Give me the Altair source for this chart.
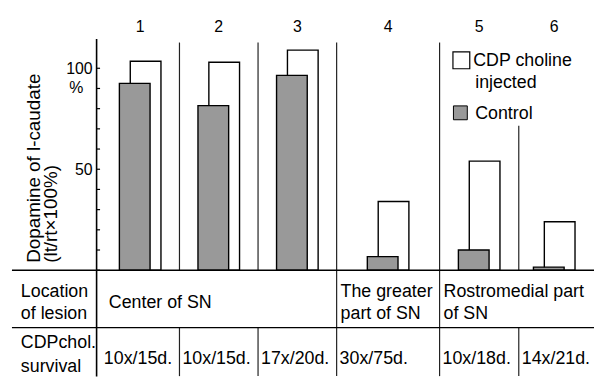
import altair as alt
import pandas as pd

# ---------------- data ----------------
groups = [1, 2, 3, 4, 5, 6]
group_labels = ["1", "2", "3", "4", "5", "6"]
cdp_values = [103.5, 103.0, 109.0, 34.0, 54.0, 24.0]
control_values = [92.5, 81.5, 96.5, 6.7, 10.0, 1.5]
series_names = ["CDP choline injected", "Control"]
locations = ["Center of SN", "Center of SN", "Center of SN",
             "The greater|part of SN",
             "Rostromedial part|of SN", "Rostromedial part|of SN"]
survival = ["10x/15d.", "10x/15d.", "17x/20d.", "30x/75d.", "10x/18d.", "14x/21d."]
y_tick_values = [0, 10, 20, 30, 40, 50, 60, 70, 80, 90, 100]
y_label_values = [50, 100]
y_title = ["Dopamine of l-caudate", "(lt/rt\u00d7100%)"]
row_labels = ["Location|of lesion", "CDPchol.|survival"]

# ---------------- layout ----------------
W, H = 503, 341
BASE = 234          # pixel row of the zero line inside the view
FONT = "Liberation Sans"
xs = alt.Scale(domain=[0.5, 3.5, 4.5, 5.5, 6.5], range=[0, 243, 347, 427, 503],
               zero=False, nice=False)
ys = alt.Scale(domain=[-(H - BASE) / 2.04, 100 + 30 / 2.04], zero=False, nice=False)
fill_scale = alt.Scale(domain=series_names, range=["white", "#999999"])

bars = pd.DataFrame({
    "group": groups * 2,
    "series": [series_names[0]] * len(groups) + [series_names[1]] * len(groups),
    "value": cdp_values + control_values,
})
info = pd.DataFrame({"group": groups, "label": group_labels,
                     "location": locations, "survival": survival})
info["left"] = info["group"] - 0.5
bounds = pd.DataFrame({"b": [g + 0.5 for g in groups[:-1]]})
loc_change = [groups[i] + 0.5 for i in range(len(groups) - 1)
              if locations[i] != locations[i + 1]]
loc_bounds = pd.DataFrame({"b": loc_change})
spans = info[info["location"] != info["location"].shift()].copy()
spans["multi"] = spans["location"].str.contains("|", regex=False)
ticks_df = pd.DataFrame({"t": y_tick_values})
one = pd.DataFrame({"k": [0]})

y_axis = alt.Axis(values=y_label_values, ticks=False, labelOverlap=False, title=y_title)

cdp_bar = alt.Chart(bars).transform_filter(
    alt.datum.series == series_names[0]
).mark_bar(width=31, xOffset=5.5, stroke="black", strokeWidth=1.4, orient="vertical").encode(
    x=alt.X("group:Q", scale=xs, axis=None),
    y=alt.Y("value:Q", scale=ys, axis=y_axis),
    y2=alt.Y2(datum=0),
    fill=alt.Fill("series:N", scale=fill_scale, legend=None),
)
ctrl_bar = alt.Chart(bars).transform_filter(
    alt.datum.series == series_names[1]
).mark_bar(width=31, xOffset=-5.5, stroke="black", strokeWidth=1.4, orient="vertical").encode(
    x=alt.X("group:Q", scale=xs, axis=None),
    y=alt.Y("value:Q", scale=ys, axis=y_axis),
    y2=alt.Y2(datum=0),
    fill=alt.Fill("series:N", scale=fill_scale, legend=None),
)

# y ticks (pointing inward, as in the original)
tick_marks = alt.Chart(ticks_df).mark_rule(color="black", strokeWidth=1.2).encode(
    x=alt.value(0), x2=alt.value(4), y=alt.Y("t:Q", scale=ys))

# horizontal table lines
base_line = alt.Chart(one).mark_rule(color="black", strokeWidth=1.6).encode(
    x=alt.value(-85), x2=alt.value(W), y=alt.value(BASE))
row_line = alt.Chart(one).mark_rule(color="black", strokeWidth=1.3).encode(
    x=alt.value(-85), x2=alt.value(W), y=alt.value(292))

# vertical separators
plot_seps = alt.Chart(bounds).transform_filter(alt.datum.b < 5).mark_rule(
    color="#222", strokeWidth=1.2).encode(
    x=alt.X("b:Q", scale=xs), y=alt.value(4), y2=alt.value(BASE))
plot_seps_low = alt.Chart(bounds).transform_filter(alt.datum.b > 5).mark_rule(
    color="#222", strokeWidth=1.2).encode(
    x=alt.X("b:Q", scale=xs), y=alt.value(88), y2=alt.value(BASE))
row2_seps = alt.Chart(bounds).mark_rule(color="#222", strokeWidth=1.2).encode(
    x=alt.X("b:Q", scale=xs), y=alt.value(292), y2=alt.value(H))
row1_seps = alt.Chart(loc_bounds).mark_rule(color="#222", strokeWidth=1.2).encode(
    x=alt.X("b:Q", scale=xs), y=alt.value(BASE), y2=alt.value(292))

# texts
grp_text = alt.Chart(info).mark_text(font=FONT, fontSize=16, baseline="middle").encode(
    x=alt.X("group:Q", scale=xs), y=alt.value(-12), text="label:N")
loc_text1 = alt.Chart(spans).transform_filter("!datum.multi").mark_text(
    font=FONT, fontSize=18, align="left", baseline="middle", dx=8).encode(
    x=alt.X("left:Q", scale=xs), y=alt.value(267), text="location:N")
loc_text2 = alt.Chart(spans).transform_filter("datum.multi").mark_text(
    font=FONT, fontSize=18, align="left", baseline="middle",
    lineBreak="|", lineHeight=22, dx=4).encode(
    x=alt.X("left:Q", scale=xs), y=alt.value(256), text="location:N")
surv_text = alt.Chart(info).mark_text(font=FONT, fontSize=18, align="left", baseline="middle",
                                      dx=3).encode(
    x=alt.X("left:Q", scale=xs), y=alt.value(324), text="survival:N")
row1_label = alt.Chart(one).mark_text(font=FONT, fontSize=18, align="left", baseline="middle",
                                      lineBreak="|", lineHeight=22).encode(
    x=alt.value(-76), y=alt.value(256), text=alt.value(row_labels[0]))
row2_label = alt.Chart(one).mark_text(font=FONT, fontSize=18, align="left", baseline="middle",
                                      lineBreak="|", lineHeight=24).encode(
    x=alt.value(-76), y=alt.value(308), text=alt.value(row_labels[1]))
pct = alt.Chart(one).mark_text(font=FONT, fontSize=16, baseline="middle", dy=20).encode(
    x=alt.value(-20), y=alt.Y(datum=100, scale=ys), text=alt.value("%"))

# legend
leg = pd.DataFrame({"series": series_names})
leg_cdp_box = alt.Chart(leg).transform_filter(alt.datum.series == series_names[0]).mark_square(
    size=289, stroke="black", strokeWidth=1.2, opacity=1).encode(
    x=alt.value(369), y=alt.value(22), fill=alt.Fill("series:N", scale=fill_scale, legend=None))
leg_ctl_box = alt.Chart(leg).transform_filter(alt.datum.series == series_names[1]).mark_square(
    size=196, stroke="black", strokeWidth=1.0, opacity=1).encode(
    x=alt.value(368), y=alt.value(75), fill=alt.Fill("series:N", scale=fill_scale, legend=None))
leg_t1 = alt.Chart(one).mark_text(font=FONT, fontSize=18, align="left", baseline="middle").encode(
    x=alt.value(381), y=alt.value(23), text=alt.value("CDP choline"))
leg_t2 = alt.Chart(one).mark_text(font=FONT, fontSize=18, align="left", baseline="middle").encode(
    x=alt.value(383), y=alt.value(45), text=alt.value("injected"))
leg_t3 = alt.Chart(one).mark_text(font=FONT, fontSize=18, align="left", baseline="middle").encode(
    x=alt.value(383), y=alt.value(76), text=alt.value("Control"))

chart = alt.layer(
    cdp_bar, ctrl_bar, tick_marks, plot_seps, plot_seps_low, row2_seps, row1_seps,
    base_line, row_line,
    grp_text, loc_text1, loc_text2, surv_text, row1_label, row2_label, pct,
    leg_cdp_box, leg_ctl_box, leg_t1, leg_t2, leg_t3,
).properties(
    width=W, height=H,
    autosize=alt.AutoSizeParams(type="none"),
    padding={"left": 89, "top": 29, "right": 0, "bottom": 0},
    background="white",
).configure_view(stroke=None).configure_text(color="black").configure_axisY(
    labelOverlap=False, titleX=-72, titleY=226, titleAngle=-90,
    titleAlign="left", titleBaseline="top", titleLineHeight=17,
    titleFontSize=19, titleFontWeight="normal", titleFont=FONT,
    labelFont=FONT, labelFontSize=16, labelPadding=4,
    domainColor="black", domainWidth=1.6,
    grid=False, labelColor="black", titleColor="black",
)

chart.save("out.html", embed_options={"renderer": "svg", "actions": False})
